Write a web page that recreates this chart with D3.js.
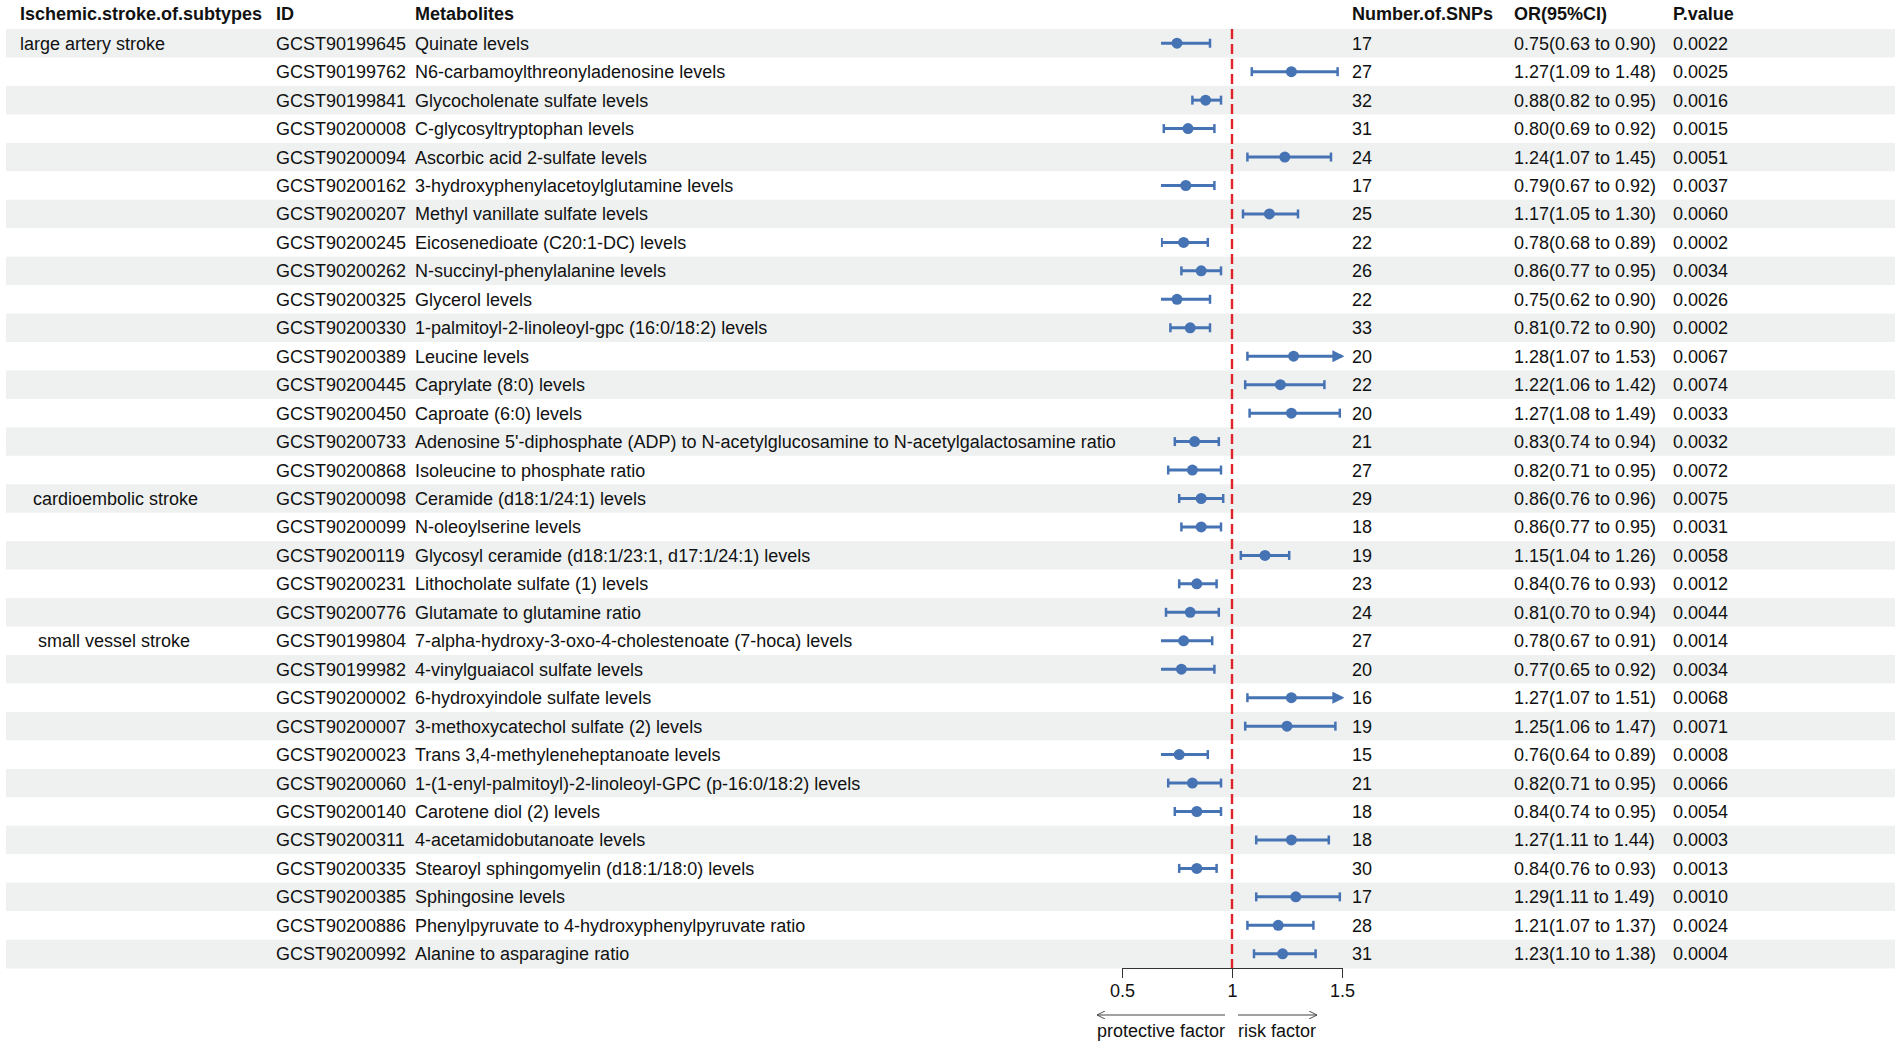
<!DOCTYPE html>
<html>
<head>
<meta charset="utf-8">
<script src="https://cdn.jsdelivr.net/npm/d3@7"></script>
<style>
  body { margin: 0; background: #fff; }
  svg { display: block; font-family: "Liberation Sans", Arial, sans-serif; }
</style>
</head>
<body>
<div id="forest"></div>
<script>
(() => {
  // data
  const subtypes = [
    "large artery stroke", "", "", "", "", "", "", "", "", "", "", "", "", "", "", "",
    "cardioembolic stroke", "", "", "", "",
    "small vessel stroke", "", "", "", "", "", "", "", "", "", "", ""
  ];
  const ids = [
    "GCST90199645", "GCST90199762", "GCST90199841", "GCST90200008", "GCST90200094",
    "GCST90200162", "GCST90200207", "GCST90200245", "GCST90200262", "GCST90200325",
    "GCST90200330", "GCST90200389", "GCST90200445", "GCST90200450", "GCST90200733",
    "GCST90200868", "GCST90200098", "GCST90200099", "GCST90200119", "GCST90200231",
    "GCST90200776", "GCST90199804", "GCST90199982", "GCST90200002", "GCST90200007",
    "GCST90200023", "GCST90200060", "GCST90200140", "GCST90200311", "GCST90200335",
    "GCST90200385", "GCST90200886", "GCST90200992"
  ];
  const metabolites = [
    "Quinate levels",
    "N6-carbamoylthreonyladenosine levels",
    "Glycocholenate sulfate levels",
    "C-glycosyltryptophan levels",
    "Ascorbic acid 2-sulfate levels",
    "3-hydroxyphenylacetoylglutamine levels",
    "Methyl vanillate sulfate levels",
    "Eicosenedioate (C20:1-DC) levels",
    "N-succinyl-phenylalanine levels",
    "Glycerol levels",
    "1-palmitoyl-2-linoleoyl-gpc (16:0/18:2) levels",
    "Leucine levels",
    "Caprylate (8:0) levels",
    "Caproate (6:0) levels",
    "Adenosine 5'-diphosphate (ADP) to N-acetylglucosamine to N-acetylgalactosamine ratio",
    "Isoleucine to phosphate ratio",
    "Ceramide (d18:1/24:1) levels",
    "N-oleoylserine levels",
    "Glycosyl ceramide (d18:1/23:1, d17:1/24:1) levels",
    "Lithocholate sulfate (1) levels",
    "Glutamate to glutamine ratio",
    "7-alpha-hydroxy-3-oxo-4-cholestenoate (7-hoca) levels",
    "4-vinylguaiacol sulfate levels",
    "6-hydroxyindole sulfate levels",
    "3-methoxycatechol sulfate (2) levels",
    "Trans 3,4-methyleneheptanoate levels",
    "1-(1-enyl-palmitoyl)-2-linoleoyl-GPC (p-16:0/18:2) levels",
    "Carotene diol (2) levels",
    "4-acetamidobutanoate levels",
    "Stearoyl sphingomyelin (d18:1/18:0) levels",
    "Sphingosine levels",
    "Phenylpyruvate to 4-hydroxyphenylpyruvate ratio",
    "Alanine to asparagine ratio"
  ];
  const snps = [17, 27, 32, 31, 24, 17, 25, 22, 26, 22, 33, 20, 22, 20, 21, 27,
    29, 18, 19, 23, 24, 27, 20, 16, 19, 15, 21, 18, 18, 30, 17, 28, 31];
  const orVals = [0.75, 1.27, 0.88, 0.80, 1.24, 0.79, 1.17, 0.78, 0.86, 0.75, 0.81,
    1.28, 1.22, 1.27, 0.83, 0.82, 0.86, 0.86, 1.15, 0.84, 0.81, 0.78, 0.77, 1.27,
    1.25, 0.76, 0.82, 0.84, 1.27, 0.84, 1.29, 1.21, 1.23];
  const lower = [0.63, 1.09, 0.82, 0.69, 1.07, 0.67, 1.05, 0.68, 0.77, 0.62, 0.72,
    1.07, 1.06, 1.08, 0.74, 0.71, 0.76, 0.77, 1.04, 0.76, 0.70, 0.67, 0.65, 1.07,
    1.06, 0.64, 0.71, 0.74, 1.11, 0.76, 1.11, 1.07, 1.10];
  const upper = [0.90, 1.48, 0.95, 0.92, 1.45, 0.92, 1.30, 0.89, 0.95, 0.90, 0.90,
    1.53, 1.42, 1.49, 0.94, 0.95, 0.96, 0.95, 1.26, 0.93, 0.94, 0.91, 0.92, 1.51,
    1.47, 0.89, 0.95, 0.95, 1.44, 0.93, 1.49, 1.37, 1.38];
  const pvals = ["0.0022", "0.0025", "0.0016", "0.0015", "0.0051", "0.0037", "0.0060",
    "0.0002", "0.0034", "0.0026", "0.0002", "0.0067", "0.0074", "0.0033", "0.0032",
    "0.0072", "0.0075", "0.0031", "0.0058", "0.0012", "0.0044", "0.0014", "0.0034",
    "0.0068", "0.0071", "0.0008", "0.0066", "0.0054", "0.0003", "0.0013", "0.0010",
    "0.0024", "0.0004"];
  const headers = ["Ischemic.stroke.of.subtypes", "ID", "Metabolites", "Number.of.SNPs", "OR(95%CI)", "P.value"];
  const xTicks = [0.5, 1, 1.5];

  const rows = ids.map((id, i) => ({
    subtype: subtypes[i],
    id: id,
    met: metabolites[i],
    snp: snps[i],
    or: orVals[i],
    lo: lower[i],
    hi: upper[i],
    ci: `${orVals[i].toFixed(2)}(${lower[i].toFixed(2)} to ${upper[i].toFixed(2)})`,
    p: pvals[i]
  }));

  const width = 1902;
  const height = 1047;
  const colX = [20, 276, 415, 1352, 1514, 1673];
  const blue = "#4673b4";

  const svg = d3
    .select("#forest")
    .append("svg")
    .attr("width", width)
    .attr("height", height);

  const y = d3
    .scaleBand()
    .domain(d3.range(rows.length))
    .range([29, 968]);

  const x = d3.scaleLinear().domain([0.5, 1.5]).range([1122, 1342]);

  // row bands
  svg
    .append("g")
    .selectAll("rect")
    .data(rows)
    .join("rect")
    .attr("x", 6)
    .attr("y", (d, i) => y(i))
    .attr("width", 1889)
    .attr("height", y.bandwidth() + 0.5)
    .attr("fill", (d, i) => (i % 2 === 0 ? "#eff1f1" : "#fff"));

  // headers
  svg
    .append("g")
    .selectAll("text")
    .data(headers)
    .join("text")
    .attr("x", (d, i) => colX[i])
    .attr("y", 20)
    .attr("font-size", "18px")
    .attr("font-weight", "bold")
    .attr("fill", "#111")
    .text((d) => d);

  // table text
  const fields = ["subtype", "id", "met", "snp", "ci", "p"];
  const groupX = { "large artery stroke": 20, "cardioembolic stroke": 33, "small vessel stroke": 38 };
  fields.forEach((f, k) => {
    svg
      .append("g")
      .selectAll("text")
      .data(rows)
      .join("text")
      .attr("x", (d) => (k === 0 ? groupX[d.subtype] || colX[0] : colX[k]))
      .attr("y", (d, i) => y(i) + y.bandwidth() / 2)
      .attr("dy", "0.36em")
      .attr("font-size", "18px")
      .attr("fill", "#111")
      .text((d) => d[f]);
  });

  // reference line at OR = 1
  svg
    .append("line")
    .attr("x1", x(1))
    .attr("x2", x(1))
    .attr("y1", y(0))
    .attr("y2", y.range()[1])
    .attr("stroke", "#e0232b")
    .attr("stroke-width", 2.4)
    .attr("stroke-dasharray", "10,5");

  // confidence intervals
  const defs = svg.append("defs");
  defs
    .append("clipPath")
    .attr("id", "panel")
    .append("rect")
    .attr("x", 1161)
    .attr("y", 0)
    .attr("width", 200)
    .attr("height", height);
  defs
    .append("marker")
    .attr("id", "ciArrow")
    .attr("viewBox", "0 0 10 10")
    .attr("refX", 8)
    .attr("refY", 5)
    .attr("markerWidth", 4)
    .attr("markerHeight", 4)
    .attr("orient", "auto")
    .append("path")
    .attr("d", "M0,0L10,5L0,10z")
    .attr("fill", blue);
  defs
    .append("marker")
    .attr("id", "axArrow")
    .attr("viewBox", "0 0 10 10")
    .attr("refX", 10)
    .attr("refY", 5)
    .attr("markerWidth", 8)
    .attr("markerHeight", 8)
    .attr("markerUnits", "userSpaceOnUse")
    .attr("orient", "auto-start-reverse")
    .append("path")
    .attr("d", "M0,0L10,5L0,10")
    .attr("fill", "none")
    .attr("stroke", "#444")
    .attr("stroke-width", 1.2);

  const ci = svg
    .append("g")
    .attr("clip-path", "url(#panel)")
    .selectAll("g")
    .data(rows)
    .join("g")
    .attr("transform", (d, i) => `translate(0, ${y(i) + y.bandwidth() / 2})`);

  ci.append("line")
    .attr("x1", (d) => x(d.lo))
    .attr("x2", (d) => (d.hi > 1.5 ? x(1.5) : x(d.hi)))
    .attr("stroke", blue)
    .attr("stroke-width", 3)
    .attr("marker-end", (d) => (d.hi > 1.5 ? "url(#ciArrow)" : null));

  ci.filter((d) => x(d.lo) > 1161)
    .append("line")
    .attr("x1", (d) => x(d.lo))
    .attr("x2", (d) => x(d.lo))
    .attr("y1", -4.5)
    .attr("y2", 4.5)
    .attr("stroke", blue)
    .attr("stroke-width", 2.5);

  ci.filter((d) => d.hi <= 1.5)
    .append("line")
    .attr("x1", (d) => x(d.hi))
    .attr("x2", (d) => x(d.hi))
    .attr("y1", -4.5)
    .attr("y2", 4.5)
    .attr("stroke", blue)
    .attr("stroke-width", 2.5);

  ci.append("circle")
    .attr("cx", (d) => x(d.or))
    .attr("r", 5.5)
    .attr("fill", blue);

  // x axis
  const axis = svg
    .append("g")
    .attr("transform", `translate(0, ${y.range()[1]})`)
    .call(
      d3
        .axisBottom(x)
        .tickValues(xTicks)
        .tickFormat((d) => d)
        .tickSize(10)
        .tickSizeOuter(0)
        .tickPadding(6)
    );
  axis.select(".domain").attr("stroke", "#333");
  axis.selectAll(".tick line").attr("stroke", "#333");
  axis
    .selectAll(".tick text")
    .attr("font-size", "18px")
    .attr("font-family", "Liberation Sans, Arial, sans-serif")
    .attr("fill", "#111");

  // direction arrows
  svg
    .append("line")
    .attr("x1", x(1) - 7)
    .attr("x2", 1097)
    .attr("y1", 1015)
    .attr("y2", 1015)
    .attr("stroke", "#444")
    .attr("stroke-width", 1.2)
    .attr("marker-end", "url(#axArrow)");
  svg
    .append("line")
    .attr("x1", x(1) + 6)
    .attr("x2", 1317)
    .attr("y1", 1015)
    .attr("y2", 1015)
    .attr("stroke", "#444")
    .attr("stroke-width", 1.2)
    .attr("marker-end", "url(#axArrow)");
  svg
    .append("text")
    .attr("x", 1097)
    .attr("y", 1037)
    .attr("font-size", "18px")
    .attr("fill", "#111")
    .text("protective factor");
  svg
    .append("text")
    .attr("x", x(1) + 6)
    .attr("y", 1037)
    .attr("font-size", "18px")
    .attr("fill", "#111")
    .text("risk factor");
})();
</script>
</body>
</html>
